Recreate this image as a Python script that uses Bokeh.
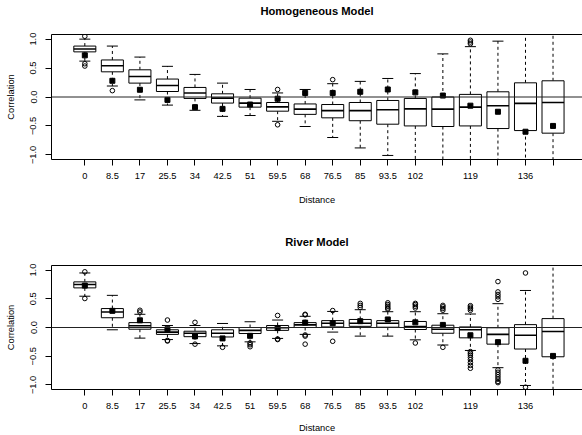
from bokeh.plotting import figure
from bokeh.models import Range1d, FixedTicker, LinearAxis, Span
from bokeh.layouts import column
from bokeh.embed import file_html
from bokeh.resources import INLINE

# ---------------- data ----------------
distances = [0, 8.5, 17, 25.5, 34, 42.5, 51, 59.5, 68, 76.5, 85, 93.5, 102,
             110.5, 119, 127.5, 136, 144.5]
x_tick_labels = ["0", "8.5", "17", "25.5", "34", "42.5", "51", "59.5", "68",
                 "76.5", "85", "93.5", "102", "", "119", "", "136", ""]
y_ticks = [-1.0, -0.5, 0.0, 0.5, 1.0]
y_tick_labels = ["\u22121.0", "\u22120.5", "0.0", "0.5", "1.0"]

# Homogeneous model
hom_q3 = [0.88, 0.64, 0.47, 0.31, 0.165, 0.055, -0.02, -0.095, -0.12, -0.13,
          -0.095, -0.06, -0.025, 0.0, 0.045, 0.09, 0.245, 0.28]
hom_med = [0.83, 0.54, 0.355, 0.2, 0.07, -0.02, -0.105, -0.17, -0.21, -0.235,
           -0.235, -0.22, -0.205, -0.21, -0.175, -0.15, -0.11, -0.095]
hom_q1 = [0.78, 0.435, 0.24, 0.095, -0.025, -0.105, -0.175, -0.245, -0.3, -0.36,
          -0.41, -0.47, -0.5, -0.51, -0.5, -0.545, -0.58, -0.625]
hom_hi = [1.0, 0.88, 0.69, 0.53, 0.39, 0.24, 0.13, 0.07, 0.13, 0.23,
          0.27, 0.32, 0.405, 0.745, 0.87, 0.965, 1.2, 1.2]
hom_lo = [0.62, 0.19, -0.05, -0.14, -0.23, -0.335, -0.32, -0.42, -0.51, -0.70,
          -0.88, -1.01, -1.2, -1.2, -1.2, -1.2, -1.2, -1.2]
hom_obs = [0.72, 0.28, 0.125, -0.05, -0.175, -0.205, -0.13, -0.03, 0.07, 0.07,
           0.09, 0.13, 0.08, 0.025, -0.15, -0.255, -0.6, -0.5]
hom_out_idx = [0, 0, 0, 1, 7, 7, 9, 14, 14, 14]
hom_out_val = [1.05, 0.575, 0.535, 0.11, 0.13, -0.48, 0.3, 0.92, 0.95, 0.98]

# River model
riv_q3 = [0.795, 0.33, 0.085, -0.04, -0.065, -0.04, 0.0, 0.035, 0.085, 0.12,
          0.14, 0.12, 0.105, 0.04, 0.01, -0.005, 0.05, 0.155]
riv_med = [0.75, 0.27, 0.03, -0.08, -0.1, -0.1, -0.05, -0.005, 0.045, 0.075,
           0.075, 0.075, 0.015, -0.03, -0.04, -0.12, -0.135, -0.07]
riv_q1 = [0.69, 0.17, -0.03, -0.12, -0.16, -0.165, -0.105, -0.05, 0.0, 0.01,
          0.02, 0.005, -0.035, -0.1, -0.18, -0.29, -0.375, -0.51]
riv_hi = [0.95, 0.56, 0.23, 0.035, 0.035, 0.07, 0.10, 0.13, 0.195, 0.28,
          0.31, 0.275, 0.275, 0.24, 0.235, 0.415, 0.645, 1.2]
riv_lo = [0.545, -0.04, -0.185, -0.21, -0.28, -0.32, -0.25, -0.19, -0.12, -0.08,
          -0.15, -0.15, -0.215, -0.305, -0.40, -0.70, -1.01, -1.2]
riv_obs = [0.73, 0.29, 0.125, -0.03, -0.155, -0.19, -0.145, -0.01, 0.085, 0.075,
           0.11, 0.14, 0.09, 0.045, -0.135, -0.255, -0.58, -0.495]
riv_out_idx = [0, 0, 2, 2, 3, 3, 3, 4, 4, 5, 6, 6, 6, 7, 7, 7, 8, 8, 8, 8, 8,
               9, 9, 10, 10, 10, 11, 11, 11, 11, 11, 12, 12, 12, 12, 12,
               13, 13, 13, 13, 13,
               14, 14, 14, 14, 14, 14, 14, 14, 14, 14, 14, 14,
               15, 15, 15, 15, 15, 15, 15, 15, 15, 15, 15, 15,
               16, 16]
riv_out_val = [0.97, 0.505, 0.30, 0.27, 0.13, -0.225, -0.235, 0.09, -0.29, -0.345,
               -0.27, -0.30, -0.335, 0.21, -0.2, -0.21, 0.23, 0.22, -0.13, -0.15, -0.29,
               0.295, -0.24, 0.42, 0.385, 0.35, 0.43, 0.40, 0.37, 0.34, 0.32,
               0.42, 0.40, 0.37, 0.34, -0.27,
               0.385, 0.36, 0.33, 0.30, -0.345,
               0.38, 0.355, 0.33, 0.30, -0.42, -0.45, -0.48, -0.52, -0.56, -0.61, -0.66, -0.71,
               0.80, 0.62, 0.575, 0.535, 0.49, -0.74, -0.78, -0.82, -0.86, -0.90, -0.94, -0.96,
               0.95, -1.04]

FONT = "Liberation Sans"
BOX_W = 0.8
CAP_W = 0.4
X_LO, X_HI = -1.21, 18.07
Y_LO, Y_HI = -1.08, 1.08


def panel(title, q1, med, q3, lo, hi, obs, out_idx, out_val,
          height, b_top, b_bot, xlab_standoff):
    xs = list(range(len(distances)))
    p = figure(width=582, height=height,
               x_range=Range1d(X_LO, X_HI), y_range=Range1d(Y_LO, Y_HI),
               output_backend="svg", toolbar_location=None,
               min_border_left=51, min_border_right=0,
               min_border_top=b_top, min_border_bottom=b_bot)
    p.outline_line_color = None
    p.grid.visible = False
    p.background_fill_color = "white"

    # whiskers
    p.segment(x0=xs, y0=q3, x1=xs, y1=hi, line_color="black",
              line_width=1, line_dash="3 3")
    p.segment(x0=xs, y0=q1, x1=xs, y1=lo, line_color="black",
              line_width=1, line_dash="3 3")
    # caps
    p.segment(x0=[x - CAP_W / 2 for x in xs], y0=hi,
              x1=[x + CAP_W / 2 for x in xs], y1=hi,
              line_color="black", line_width=1)
    p.segment(x0=[x - CAP_W / 2 for x in xs], y0=lo,
              x1=[x + CAP_W / 2 for x in xs], y1=lo,
              line_color="black", line_width=1)
    # boxes
    p.vbar(x=xs, width=BOX_W, bottom=q1, top=q3, fill_color="white",
           line_color="black", line_width=1)
    # medians
    p.segment(x0=[x - BOX_W / 2 for x in xs], y0=med,
              x1=[x + BOX_W / 2 for x in xs], y1=med,
              line_color="black", line_width=1.6)
    # outliers
    p.scatter(x=out_idx, y=out_val, marker="circle", size=4.6,
              fill_color=None, line_color="black", line_width=1)
    # observed values
    p.scatter(x=xs, y=obs, marker="square", size=5,
              fill_color="black", line_color="black")

    p.add_layout(Span(location=0, dimension="width", line_color="#222222",
                      line_width=1))

    # axes
    xa = p.xaxis[0]
    xa.ticker = FixedTicker(ticks=xs)
    xa.major_label_overrides = {i: lab for i, lab in zip(xs, x_tick_labels)}
    xa.axis_label = "Distance"
    ya = p.yaxis[0]
    ya.ticker = FixedTicker(ticks=y_ticks)
    ya.major_label_overrides = {v: lab for v, lab in zip(y_ticks, y_tick_labels)}
    ya.axis_label = "Correlation"
    ya.major_label_orientation = "vertical"

    for ax in (xa, ya):
        ax.axis_line_color = "black"
        ax.major_tick_line_color = "black"
        ax.major_tick_out = 6
        ax.major_tick_in = 0
        ax.minor_tick_line_color = None
        ax.major_label_text_font = FONT
        ax.major_label_text_font_size = "9.3px"
        ax.major_label_text_color = "black"
        ax.axis_label_text_font = FONT
        ax.axis_label_text_font_size = "9.3px"
        ax.axis_label_text_font_style = "normal"
        ax.axis_label_text_color = "black"
    xa.major_label_standoff = 7
    xa.axis_label_standoff = xlab_standoff
    ya.major_label_standoff = 9
    ya.axis_label_standoff = 12

    # frame top line + panel title
    top_ax = LinearAxis(ticker=FixedTicker(ticks=[]), major_tick_out=0,
                        major_tick_in=0, minor_tick_out=0, minor_tick_in=0,
                        major_label_standoff=0, axis_label_standoff=18,
                        major_label_text_font_size="0px",
                        axis_line_color="black",
                        axis_label=title,
                        axis_label_text_font=FONT,
                        axis_label_text_font_size="11.2px",
                        axis_label_text_font_style="bold",
                        axis_label_text_color="black")
    p.add_layout(top_ax, "above")
    return p


p1 = panel("Homogeneous Model", hom_q1, hom_med, hom_q3, hom_lo, hom_hi,
           hom_obs, hom_out_idx, hom_out_val, 218, 34, 59, 13)
p2 = panel("River Model", riv_q1, riv_med, riv_q3, riv_lo, riv_hi,
           riv_obs, riv_out_idx, riv_out_val, 217, 47, 45, 11)

layout = column(p1, p2, spacing=0)
open("out.html", "w").write(file_html(layout, INLINE))
